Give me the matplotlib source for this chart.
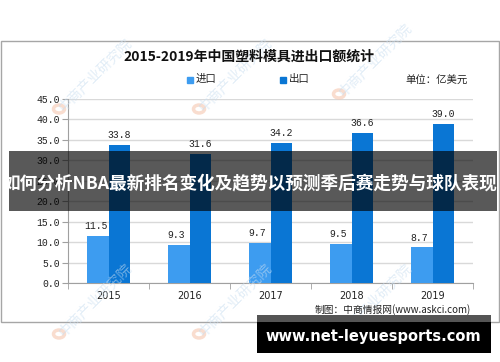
import matplotlib.pyplot as plt
import matplotlib.patches as mpatches
import numpy as np

plt.rcParams['font.family'] = ['Noto Sans CJK SC', 'DejaVu Sans']

# Data
years = ['2015', '2016', '2017', '2018', '2019']
imports = [11.5, 9.3, 9.7, 9.5, 8.7]
exports = [33.8, 31.6, 34.2, 36.6, 39.0]
y_ticks = [0, 5, 10, 15, 20, 25, 30, 35, 40, 45]

W, H = 500, 362
fig = plt.figure(figsize=(W / 100, H / 100), dpi=100)
fig.patch.set_facecolor('white')


def fx(x):
    return x / W


def fy(y):
    return 1 - y / H


# chart frame
fig.patches.append(mpatches.Rectangle((fx(1), fy(322)), fx(498), (321 - 40) / H,
                                      transform=fig.transFigure, fill=False,
                                      edgecolor='#a6a6a6', linewidth=1, zorder=0))

# watermark "中商产业研究院"
for wx, wy in [(95, 75), (235, 75), (375, 60), (95, 300), (235, 300), (375, 300)]:
    fig.text(fx(wx), fy(wy), '中商产业研究院', rotation=45, fontsize=10,
             color='#c9def0', alpha=0.55, ha='center', va='center', zorder=1)
    fig.patches.append(mpatches.Circle((fx(wx - 36), fy(wy + 34)), 0.011,
                                       transform=fig.transFigure, facecolor='none',
                                       edgecolor='#f6c7b0', linewidth=2.5, alpha=0.6, zorder=1))

ax = fig.add_axes([fx(68), fy(283), fx(473 - 68), (283 - 99) / H])
ax.set_facecolor('none')
x = np.arange(len(years))
w = 0.26
ax.bar(x - w / 2, imports, w, color='#3d9cf0', zorder=3)
ax.bar(x + w / 2, exports, w, color='#0a76d4', zorder=3)

for i in range(len(years)):
    ax.text(x[i] - w / 2 - 0.03, imports[i] + 1.2, f'{imports[i]:.1f}', ha='center', va='bottom',
            fontsize=7, family='Liberation Mono', color='#222222')
    ax.text(x[i] + w / 2, exports[i] + 1.2, f'{exports[i]:.1f}', ha='center', va='bottom',
            fontsize=7, family='Liberation Mono', color='#222222')

ax.set_xlim(-0.5, len(years) - 0.5)
ax.set_ylim(0, 45)
ax.set_yticks(y_ticks)
ax.set_yticklabels([f'{v:.1f}' for v in y_ticks], family='Liberation Mono', fontsize=7, color='#222222')
ax.set_xticks(x)
ax.set_xticklabels(years, fontsize=7, family='DejaVu Sans', color='#222222')
ax.set_xticks(np.arange(-0.5, len(years)), minor=True)
ax.tick_params(axis='x', which='major', length=0, pad=6)
ax.tick_params(axis='x', which='minor', length=4, color='#a0a0a0')
ax.tick_params(axis='y', length=4, color='#a0a0a0', pad=2)
ax.grid(axis='y', color='#d9d9d9', linewidth=1, zorder=0)
for s in ['top', 'right']:
    ax.spines[s].set_visible(False)
for s in ['left', 'bottom']:
    ax.spines[s].set_color('#a0a0a0')

# title, legend, unit
fig.text(fx(249), fy(57), '2015-2019年中国塑料模具进出口额统计', ha='center', va='center',
         fontsize=10, fontweight='bold', color='#111111')
fig.patches.append(mpatches.Rectangle((fx(187), fy(83)), fx(6), 6 / H, transform=fig.transFigure,
                                      color='#3d9cf0'))
fig.text(fx(196), fy(79), '进口', ha='left', va='center', fontsize=7.5, color='#222222')
fig.patches.append(mpatches.Rectangle((fx(280), fy(83)), fx(6), 6 / H, transform=fig.transFigure,
                                      color='#0a76d4'))
fig.text(fx(289), fy(79), '出口', ha='left', va='center', fontsize=7.5, color='#222222')
fig.text(fx(468), fy(81), '单位：亿美元', ha='right', va='center', fontsize=7.5, color='#222222')
fig.text(fx(471), fy(310), '制图：中商情报网(www.askci.com)', ha='right', va='center',
         fontsize=7, color='#222222')

# overlay banner
fig.patches.append(mpatches.Rectangle((fx(9), fy(211)), fx(488), 60 / H, transform=fig.transFigure,
                                      facecolor='black', alpha=0.65, zorder=10))
fig.text(fx(250), fy(183), '如何分析NBA最新排名变化及趋势以预测季后赛走势与球队表现', ha='center',
         va='center', fontsize=12.7, fontweight='bold', color='white', zorder=11)

# bottom site banner
fig.patches.append(mpatches.Rectangle((fx(257), fy(322)), fx(234), 7 / H, transform=fig.transFigure,
                                      facecolor='#555555', zorder=10))
fig.patches.append(mpatches.Rectangle((fx(257), fy(353)), fx(234), 31 / H, transform=fig.transFigure,
                                      facecolor='black', zorder=10))
fig.text(fx(373), fy(337), 'www.net-leyuesports.com', ha='center', va='center', fontsize=10.5,
         fontweight='bold', family='DejaVu Sans', color='white', zorder=11)

plt.savefig('out.png', dpi=100)
